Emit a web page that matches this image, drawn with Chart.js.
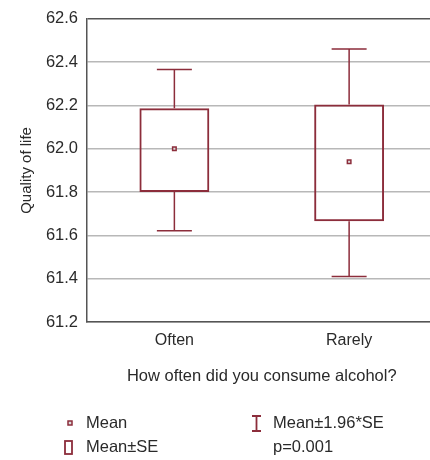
<!DOCTYPE html>
<html>
<head>
<meta charset="utf-8">
<script src="https://cdn.jsdelivr.net/npm/chart.js@4"></script>
<style>
  html, body { margin: 0; padding: 0; background: #fff; overflow: hidden; }
  #wrap { width: 430px; height: 460px; overflow: hidden; }
</style>
</head>
<body>
<div id="wrap">
  <canvas id="qol-chart" width="442" height="460"></canvas>
</div>
<script>
// groups on the x axis
const categories = ['Often', 'Rarely'];
// mean, mean±SE, mean±1.96*SE
const means = [62.0, 61.94];
const seLow = [61.80, 61.665];
const seHigh = [62.187, 62.205];
const ciLow = [61.622, 61.41];
const ciHigh = [62.366, 62.461];
const yTicks = [61.2, 61.4, 61.6, 61.8, 62.0, 62.2, 62.4, 62.6];

const RED = '#8c2d3b';
const FONT = 'Liberation Sans, Arial, sans-serif';

// whiskers for the 1.96*SE range
const whiskers = {
  id: 'whiskers',
  afterDatasetsDraw(chart) {
    const x = chart.scales.x, y = chart.scales.y;
    const ctx = chart.ctx;
    ctx.save();
    ctx.strokeStyle = RED;
    ctx.lineWidth = 1.5;
    categories.forEach((c, i) => {
      const cx = x.getPixelForValue(i);
      const half = 17.5;
      ctx.beginPath();
      ctx.moveTo(cx, y.getPixelForValue(seHigh[i]));
      ctx.lineTo(cx, y.getPixelForValue(ciHigh[i]));
      ctx.moveTo(cx - half, y.getPixelForValue(ciHigh[i]));
      ctx.lineTo(cx + half, y.getPixelForValue(ciHigh[i]));
      ctx.moveTo(cx, y.getPixelForValue(seLow[i]));
      ctx.lineTo(cx, y.getPixelForValue(ciLow[i]));
      ctx.moveTo(cx - half, y.getPixelForValue(ciLow[i]));
      ctx.lineTo(cx + half, y.getPixelForValue(ciLow[i]));
      ctx.stroke();
    });
    ctx.restore();
  }
};

// legend block under the chart
const legendBlock = {
  id: 'legendBlock',
  afterDraw(chart) {
    const ctx = chart.ctx;
    ctx.save();
    ctx.font = '16.5px ' + FONT;
    ctx.textBaseline = 'middle';
    ctx.strokeStyle = RED;

    // mean marker
    ctx.lineWidth = 1.5;
    ctx.fillStyle = '#ddd';
    ctx.fillRect(68, 421, 4, 4);
    ctx.strokeRect(68, 421, 4, 4);
    // box marker
    ctx.lineWidth = 1.8;
    ctx.strokeRect(65, 441, 7, 13);
    // whisker marker
    ctx.beginPath();
    ctx.moveTo(252, 416); ctx.lineTo(261, 416);
    ctx.moveTo(256.5, 416); ctx.lineTo(256.5, 431);
    ctx.moveTo(252, 431); ctx.lineTo(261, 431);
    ctx.stroke();

    ctx.fillStyle = '#2a2a2a';
    ctx.fillText('Mean', 86, 423);
    ctx.fillText('Mean\u00b1SE', 86, 447);
    ctx.fillText('Mean\u00b11.96*SE', 273, 423);
    ctx.fillText('p=0.001', 273, 447);
    ctx.restore();
  }
};

new Chart(document.getElementById('qol-chart'), {
  data: {
    labels: categories,
    datasets: [
      {
        type: 'bar',
        label: 'Mean\u00b1SE',
        data: categories.map((c, i) => [seLow[i], seHigh[i]]),
        backgroundColor: 'rgba(255,255,255,0)',
        borderColor: RED,
        borderWidth: 2,
        borderSkipped: false,
        barPercentage: 0.4,
        categoryPercentage: 1
      },
      {
        type: 'line',
        label: 'Mean',
        data: means,
        showLine: false,
        pointStyle: 'rect',
        pointRadius: 2.5,
        pointBorderWidth: 1.5,
        pointBackgroundColor: '#ddd',
        pointBorderColor: RED
      }
    ]
  },
  options: {
    responsive: false,
    animation: false,
    devicePixelRatio: 1,
    layout: { padding: { top: 18, left: 0, right: 0, bottom: 70 } },
    plugins: {
      legend: { display: false },
      tooltip: { enabled: false }
    },
    scales: {
      x: {
        type: 'category',
        offset: true,
        grid: { display: false },
        border: { color: '#555', width: 1.5 },
        ticks: { color: '#2a2a2a', font: { family: FONT, size: 16 }, padding: 1 },
        title: {
          display: true,
          text: 'How often did you consume alcohol?',
          color: '#2a2a2a',
          font: { family: FONT, size: 16.5 },
          padding: { top: 14 }
        },
        afterFit: (s) => { s.height = 68; }
      },
      y: {
        min: 61.2,
        max: 62.6,
        afterBuildTicks: (s) => { s.ticks = yTicks.map(v => ({ value: v })); },
        grid: {
          color: (c) => (c.tick && Math.abs(c.tick.value - 62.6) < 1e-6) ? '#555' : '#b8b8b8',
          lineWidth: 1.5,
          drawTicks: false
        },
        border: { color: '#555', width: 1.5 },
        ticks: {
          color: '#2a2a2a',
          font: { family: FONT, size: 16.5 },
          padding: 9,
          callback: (v) => Number(v).toFixed(1)
        },
        title: {
          display: true,
          text: 'Quality of life',
          color: '#2a2a2a',
          font: { family: FONT, size: 15 },
          padding: { top: 18, bottom: 4 }
        },
        afterFit: (s) => { s.width = 87; }
      }
    }
  },
  plugins: [whiskers, legendBlock]
});
</script>
</body>
</html>
